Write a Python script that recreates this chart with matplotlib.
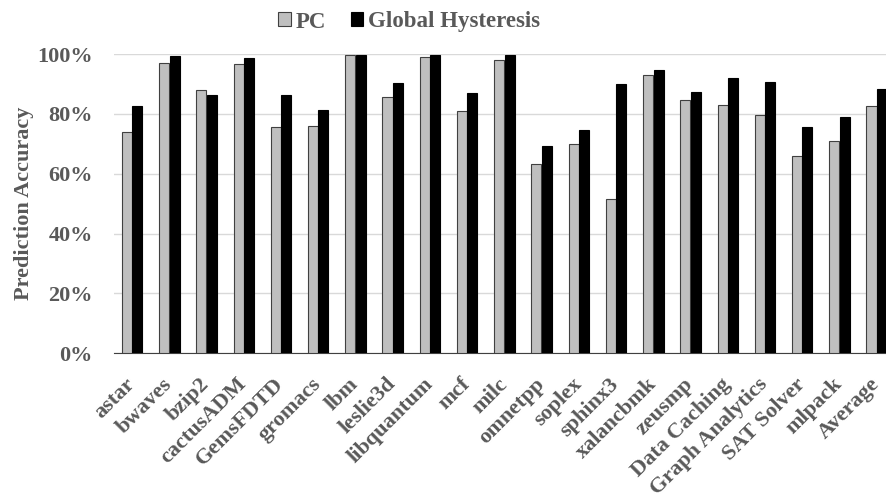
import matplotlib.pyplot as plt
import numpy as np
from matplotlib.ticker import PercentFormatter

benchmarks = ["astar", "bwaves", "bzip2", "cactusADM", "GemsFDTD", "gromacs", "lbm",
              "leslie3d", "libquantum", "mcf", "milc", "omnetpp", "soplex", "sphinx3",
              "xalancbmk", "zeusmp", "Data Caching", "Graph Analytics", "SAT Solver",
              "mlpack", "Average"]
pc_acc = [0.738, 0.970, 0.881, 0.965, 0.755, 0.761, 0.996, 0.856, 0.989, 0.808, 0.980,
          0.631, 0.698, 0.516, 0.930, 0.847, 0.831, 0.796, 0.660, 0.708, 0.827]
gh_acc = [0.825, 0.994, 0.862, 0.987, 0.864, 0.812, 0.997, 0.904, 0.997, 0.869, 0.997,
          0.694, 0.746, 0.901, 0.946, 0.872, 0.920, 0.905, 0.756, 0.790, 0.882]

plt.rcParams['font.family'] = ['Liberation Serif', 'DejaVu Serif']
plt.rcParams['font.weight'] = 'bold'
txt = '#595959'

fig = plt.figure(figsize=(8.86, 4.96), dpi=100)
ax = fig.add_axes([113.5 / 886, (496 - 353.3) / 496, 1 - 113.5 / 886, (353.3 - 54) / 496])

x = np.arange(len(benchmarks))
w = 0.27
ax.bar(x - 0.14, pc_acc, w, color='#bfbfbf', edgecolor='#404040', linewidth=0.8, label='PC', zorder=3)
ax.bar(x + 0.14, gh_acc, w, color='black', edgecolor='black', linewidth=0.8,
       label='Global Hysteresis', zorder=3)

ax.set_xlim(-0.5, 20.25)
ax.set_ylim(0, 1)
ax.set_yticks(np.arange(0, 1.01, 0.2))
ax.yaxis.set_major_formatter(PercentFormatter(1.0, decimals=0))
ax.grid(axis='y', color='#d9d9d9', linewidth=1, zorder=0)
for s in ['top', 'right', 'left']:
    ax.spines[s].set_visible(False)
ax.spines['bottom'].set_color('#404040')
ax.tick_params(axis='both', length=0, labelsize=16, colors=txt)
ax.tick_params(axis='y', pad=15)
ax.set_xticks(x)
ax.set_xticklabels(benchmarks, rotation=45, ha='right', va='center', rotation_mode='anchor')
ax.tick_params(axis='x', pad=20)
ax.set_ylabel('Prediction Accuracy', fontsize=16, fontweight='bold', color=txt, labelpad=2)

fig.legend(handles=ax.get_legend_handles_labels()[0], loc='center',
           bbox_to_anchor=(409 / 886, 1 - 22 / 496), ncol=2, frameon=False,
           fontsize=16.5, labelcolor=txt, handlelength=0.55, handleheight=0.55,
           handletextpad=0.2, columnspacing=1.1)

fig.savefig('out.png', dpi=100)
